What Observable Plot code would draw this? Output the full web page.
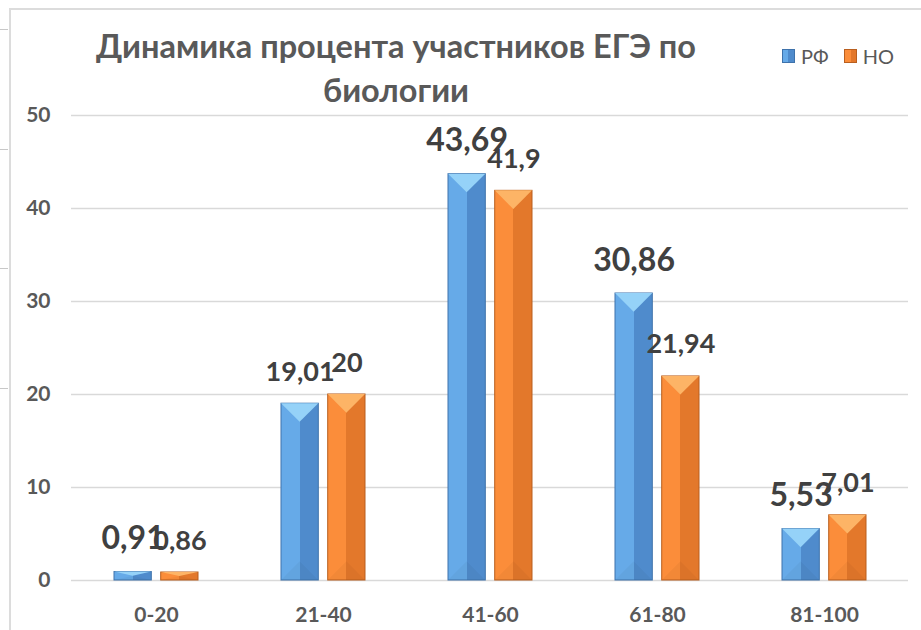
<!DOCTYPE html>
<html><head><meta charset="utf-8">
<script src="https://cdn.jsdelivr.net/npm/d3@7"></script>
<script src="https://cdn.jsdelivr.net/npm/@observablehq/plot@0.6"></script>
<style>
body{margin:0;background:#fff;}
#wrap{position:relative;width:921px;height:630px;overflow:hidden;font-family:Lato,sans-serif;background:#fff;}
#chart{position:absolute;left:0;top:0;}
#frameTop{position:absolute;left:9px;top:8px;width:912px;height:0;border-top:2px solid #dcdcdc;}
#frameLeft{position:absolute;left:9px;top:8px;width:0;height:630px;border-left:2px solid #dcdcdc;}
.lt{position:absolute;left:0;width:8px;height:0;border-top:1px solid #c8c8c8;}
#title{position:absolute;left:76px;width:640px;top:24px;text-align:center;font-weight:700;font-size:32.5px;line-height:44px;color:#595959;}
#legend{position:absolute;left:782px;top:44px;font-size:20px;color:#595959;display:flex;align-items:center;}
.sw{display:inline-block;width:13px;height:14px;margin-right:6px;box-sizing:border-box;}
.item{display:flex;align-items:center;margin-right:15px;}
</style>
</head><body>
<div id="wrap">
  <div id="chart"></div>
  <div id="frameTop"></div>
  <div id="frameLeft"></div>
  <div class="lt" style="top:29px"></div>
  <div class="lt" style="top:149px"></div>
  <div class="lt" style="top:268px"></div>
  <div class="lt" style="top:388px"></div>
  <div id="title">Динамика процента участников ЕГЭ по<br>биологии</div>
  <div id="legend"></div>
</div>
<script>
// ---- data ----
const categories = ["0-20", "21-40", "41-60", "61-80", "81-100"];
const series = ["РФ", "НО"];
const valuesRF = [0.91, 19.01, 43.69, 30.86, 5.53];
const valuesNO = [0.86, 20, 41.9, 21.94, 7.01];
const yTicks = [0, 10, 20, 30, 40, 50];

const rows = categories.flatMap((c, i) => [
  {category: c, series: series[0], value: valuesRF[i]},
  {category: c, series: series[1], value: valuesNO[i]}
]);

const colors = {
  "РФ": {light: "#66aae8", dark: "#4f8bcc", top: "#95d2f8", stroke: "#3e72ab", solid: "#5b9bd5"},
  "НО": {light: "#fb8d3a", dark: "#e3782b", top: "#fdb466", stroke: "#b95f1f", solid: "#ed7d31"}
};

const fmt = v => v.toLocaleString("ru-RU");

const chart = Plot.plot({
  width: 921,
  height: 630,
  marginLeft: 71,
  marginRight: 13,
  marginTop: 115,
  marginBottom: 50,
  style: {fontFamily: "Lato, sans-serif", fontSize: "21px", fontWeight: "700", color: "#595959", background: "transparent"},
  x: {domain: categories, paddingInner: 0.5, paddingOuter: 0.25, label: null},
  y: {domain: [0, 50], ticks: yTicks, label: null},
  marks: [
    Plot.gridY(yTicks, {stroke: "#d9d9d9", strokeOpacity: 1, strokeWidth: 1.5}),
    Plot.axisY({ticks: yTicks, tickSize: 0, tickPadding: 21, label: null}),
    Plot.axisX({tickSize: 0, tickPadding: 27, label: null}),
    Plot.barY(rows, {filter: d => d.series === series[0], x: "category", y: "value", insetRight: 46.7, fill: colors["РФ"].solid, stroke: colors["РФ"].stroke, strokeWidth: 1}),
    Plot.barY(rows, {filter: d => d.series === series[1], x: "category", y: "value", insetLeft: 46.7, fill: colors["НО"].solid, stroke: colors["НО"].stroke, strokeWidth: 1}),
    Plot.text(rows, {filter: d => d.series === series[0], x: "category", y: "value", text: d => fmt(d.value), dx: -23.4, dy: -23, lineAnchor: "bottom",
      fontSize: d => d.category === "21-40" ? 27 : 32, fontWeight: 700, fill: "#404040"}),
    Plot.text(rows, {filter: d => d.series === series[1], x: "category", y: "value", text: d => fmt(d.value), dx: 23.4, dy: -23, lineAnchor: "bottom",
      fontSize: 27, fontWeight: 700, fill: "#404040"})
  ]
});
document.getElementById("chart").appendChild(chart);

// ---- bevel styling of bars ----
const svgNS = "http://www.w3.org/2000/svg";
const defs = document.createElementNS(svgNS, "defs");
series.forEach((s, i) => {
  const g = document.createElementNS(svgNS, "linearGradient");
  g.setAttribute("id", "grad" + i);
  g.setAttribute("x1", "0"); g.setAttribute("x2", "1"); g.setAttribute("y1", "0"); g.setAttribute("y2", "0");
  [[0, colors[s].light], [0.5, colors[s].light], [0.5, colors[s].dark], [1, colors[s].dark]].forEach(([o, c]) => {
    const st = document.createElementNS(svgNS, "stop");
    st.setAttribute("offset", o); st.setAttribute("stop-color", c);
    g.appendChild(st);
  });
  defs.appendChild(g);
});
chart.insertBefore(defs, chart.firstChild);
const barGroups = chart.querySelectorAll('g[aria-label="bar"]');
barGroups.forEach((grp, i) => {
  const s = series[i];
  grp.querySelectorAll("rect").forEach(r => {
    r.setAttribute("fill", "url(#grad" + i + ")");
    const x = +r.getAttribute("x"), y = +r.getAttribute("y"), w = +r.getAttribute("width"), h = +r.getAttribute("height");
    const d = Math.min(w / 2, h / 2);
    const top = document.createElementNS(svgNS, "polygon");
    top.setAttribute("points", `${x},${y} ${x + w},${y} ${x + w / 2},${y + d}`);
    top.setAttribute("fill", colors[s].top);
    top.setAttribute("stroke", "none");
    const bot = document.createElementNS(svgNS, "polygon");
    bot.setAttribute("points", `${x},${y + h} ${x + w / 2},${y + h - d} ${x + w},${y + h}`);
    bot.setAttribute("fill", "#000");
    bot.setAttribute("fill-opacity", "0.035");
    bot.setAttribute("stroke", "none");
    grp.appendChild(top);
    grp.appendChild(bot);
  });
});

// ---- legend ----
const legend = document.getElementById("legend");
series.forEach((s, i) => {
  const item = document.createElement("div");
  item.className = "item";
  const sw = document.createElement("span");
  sw.className = "sw";
  sw.style.background = `linear-gradient(to right, ${colors[s].light} 50%, ${colors[s].dark} 50%)`;
  sw.style.border = `1px solid ${colors[s].stroke}`;
  item.appendChild(sw);
  item.appendChild(document.createTextNode(s));
  legend.appendChild(item);
});
</script>
</body></html>
